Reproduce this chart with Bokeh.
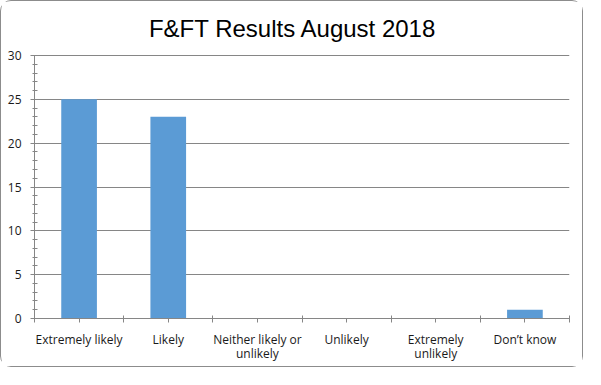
from bokeh.plotting import figure
from bokeh.models import FixedTicker, Range1d, ColumnDataSource, Label
from bokeh.embed import file_html
from bokeh.resources import INLINE

categories = ["Extremely likely", "Likely", "Neither likely or\nunlikely", "Unlikely",
              "Extremely\nunlikely", "Don\u2019t know"]
responses = [25, 23, 0, 0, 0, 1]
y_ticks = [0, 5, 10, 15, 20, 25, 30]
title_text = "F&FT Results August 2018"

n = len(categories)
centers = [i + 0.5 for i in range(n)]
boundaries = [float(i) for i in range(n + 1)]
y_max = 30

# layout (pixels): the frame reaches the top edge so the title can sit inside it
W, H = 583, 367
border_left, border_right, border_bottom = 33, 15, 50
axis_top_px = 54          # distance from top edge to the "30" gridline
title_px = 27             # distance from top edge to the title anchor
frame_h = H - border_bottom
y_end = y_max * frame_h / (frame_h - axis_top_px)

src = ColumnDataSource(dict(x=centers, top=responses))

p = figure(width=W, height=H, output_backend="svg", toolbar_location=None,
           x_range=Range1d(0, n), y_range=Range1d(0, y_end),
           min_border_left=border_left, min_border_right=border_right,
           min_border_top=0, min_border_bottom=border_bottom)
p.title = None
p.styles = {"border": "1px solid #8c8c8c", "border-radius": "11px"}
p.outline_line_color = None
p.background_fill_color = "white"
p.border_fill_color = "white"

p.vbar(x="x", top="top", width=0.4, bottom=0, source=src,
       fill_color="#5B9BD5", line_color=None)

# title, centred on the whole chart (frame is offset by the left/right borders)
frame_w = W - border_left - border_right
title_x = (W / 2 - border_left) / frame_w * n
title_y = (frame_h - title_px) / (frame_h - axis_top_px) * y_max
p.add_layout(Label(x=title_x, y=title_y, text=title_text,
                   text_align="center", text_baseline="alphabetic",
                   text_font="Liberation Sans", text_font_size="24px", text_color="#000000"))

grey = "#868686"
label_color = "#1a1a1a"

# y axis
p.yaxis.ticker = FixedTicker(ticks=y_ticks, minor_ticks=list(range(0, y_max + 1)))
p.yaxis.bounds = (0, y_max)
p.yaxis.axis_line_color = grey
p.yaxis.major_tick_line_color = grey
p.yaxis.minor_tick_line_color = grey
p.yaxis.major_tick_out = 4
p.yaxis.major_tick_in = 0
p.yaxis.minor_tick_out = 2
p.yaxis.minor_tick_in = 3
p.yaxis.major_label_standoff = 9
p.yaxis.major_label_text_font = "Open Sans"
p.yaxis.major_label_text_font_size = "12px"
p.yaxis.major_label_text_color = label_color

# x axis: labels at centres, boundary ticks as minor
p.xaxis.ticker = FixedTicker(ticks=centers, minor_ticks=boundaries)
p.xaxis.major_label_overrides = {c: lab for c, lab in zip(centers, categories)}
p.xaxis.axis_line_color = grey
p.xaxis.major_tick_line_color = grey
p.xaxis.minor_tick_line_color = grey
p.xaxis.major_tick_out = 4
p.xaxis.major_tick_in = 0
p.xaxis.minor_tick_out = 4
p.xaxis.minor_tick_in = 3
p.xaxis.major_label_standoff = 8
p.xaxis.major_label_text_font = "Open Sans"
p.xaxis.major_label_text_font_size = "12px"
p.xaxis.major_label_text_line_height = 0.85
p.xaxis.major_label_text_color = label_color
p.xaxis.major_label_orientation = "horizontal"

p.xgrid.visible = False
p.ygrid.ticker = FixedTicker(ticks=y_ticks)
p.ygrid.grid_line_color = grey
p.ygrid.grid_line_width = 1

open("out.html", "w").write(file_html(p, INLINE))
